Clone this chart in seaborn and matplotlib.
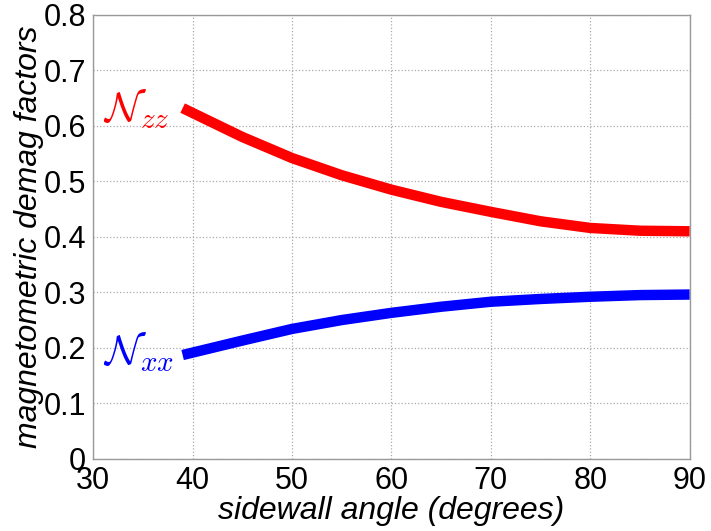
import matplotlib
matplotlib.use("Agg")
import matplotlib.pyplot as plt
import seaborn as sns
import pandas as pd

angle = [39, 45, 50, 55, 60, 65, 70, 75, 80, 85, 90]
n_zz = [0.632, 0.580, 0.542, 0.511, 0.485, 0.463, 0.445, 0.428, 0.416, 0.411, 0.410]
n_xx = [0.187, 0.213, 0.234, 0.250, 0.263, 0.274, 0.283, 0.288, 0.292, 0.295, 0.296]
series_names = [r"$\mathcal{N}_{zz}$", r"$\mathcal{N}_{xx}$"]
x_ticks = [30, 40, 50, 60, 70, 80, 90]
y_ticks = [0, 0.1, 0.2, 0.3, 0.4, 0.5, 0.6, 0.7, 0.8]

df = pd.DataFrame({
    "angle": angle + angle,
    "value": n_zz + n_xx,
    "series": [series_names[0]] * len(angle) + [series_names[1]] * len(angle),
})

sns.set_style("white")
plt.rcParams["font.family"] = ["Liberation Sans", "DejaVu Sans"]
plt.rcParams["mathtext.fontset"] = "cm"
plt.rcParams["text.color"] = "black"
plt.rcParams["axes.labelcolor"] = "black"
plt.rcParams["xtick.color"] = "black"
plt.rcParams["ytick.color"] = "black"

fig = plt.figure(figsize=(7.11, 5.31), dpi=100)
ax = fig.add_axes([0.131, 0.136, 0.839, 0.836])

sns.lineplot(data=df, x="angle", y="value", hue="series",
             palette={series_names[0]: "#ff0000", series_names[1]: "#0000ff"},
             linewidth=7.5, legend=False, ax=ax, solid_capstyle="butt")

ax.set_xlim(30, 90)
ax.set_ylim(0, 0.8)
ax.set_xticks(x_ticks)
ax.set_yticks(y_ticks)
ax.set_xticklabels([str(t) for t in x_ticks])
ax.set_yticklabels(["0" if t == 0 else f"{t:.1f}" for t in y_ticks])
ax.tick_params(axis="both", labelsize=22, direction="in", length=4,
               color="#999999", labelcolor="black")
ax.tick_params(axis="x", pad=5)
ax.tick_params(axis="y", pad=5)
ax.grid(True, linestyle=":", color="#aaaaaa", linewidth=0.9)
for s in ax.spines.values():
    s.set_color("#999999")
    s.set_linewidth(1.0)

ax.set_xlabel("sidewall angle (degrees)", fontsize=23, style="italic",
              labelpad=0, color="black")
ax.set_ylabel("magnetometric demag factors", fontsize=23, style="italic",
              labelpad=0, color="black")

ax.text(31.0, 0.607, series_names[0], color="#ff0000", fontsize=30,
        va="baseline", ha="left")
ax.text(31.0, 0.169, series_names[1], color="#0000ff", fontsize=30,
        va="baseline", ha="left")

fig.savefig("out.png", dpi=100)
